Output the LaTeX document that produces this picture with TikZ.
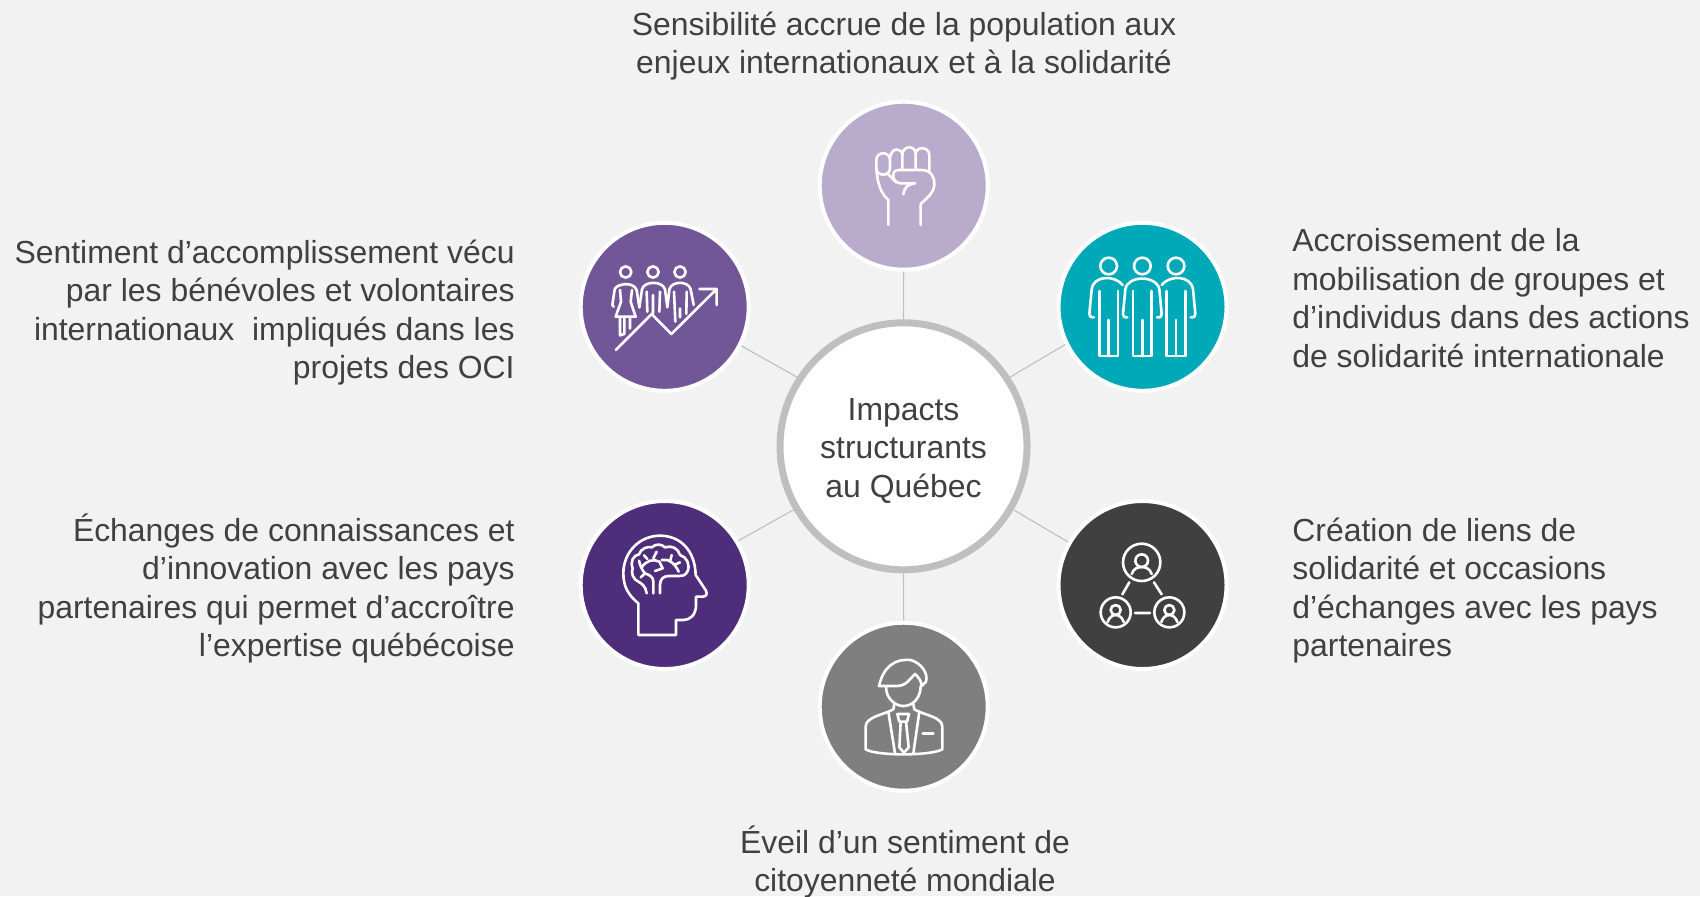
\documentclass[tikz,border=0pt]{standalone}
\usepackage{fontspec}
\setmainfont{Liberation Sans}
\definecolor{bgc}{HTML}{F2F2F2}
\definecolor{txt}{HTML}{404040}
\definecolor{ringc}{HTML}{BFBFBF}
\definecolor{lilac}{HTML}{B8ABCB}
\definecolor{violet}{HTML}{715797}
\definecolor{teal}{HTML}{00A9B7}
\definecolor{deep}{HTML}{4E2D7B}
\definecolor{dark}{HTML}{404040}
\definecolor{midgrey}{HTML}{7F7F7F}
\tikzset{
 label/.style={text=txt,font=\fontsize{15.95}{19.25}\selectfont,inner sep=0pt},
 disc/.style={circle,draw=white,line width=2pt,minimum size=84pt,inner sep=0pt},
 hub/.style={circle,draw=ringc,fill=white,line width=3.5pt,minimum size=123.5pt,inner sep=0pt},
 link/.style={draw=ringc,line width=0.55pt},
 icon/.style={draw=white,line width=1.3pt,line cap=round,line join=round},
 zoomed/.style={shift={#1},x=0.16667pt,y=-0.16667pt}
}
\begin{document}
\begin{tikzpicture}[x=0.5pt,y=-0.5pt]
\useasboundingbox (0,0) rectangle (1700,896);
\fill[bgc] (0,0) rectangle (1700,896);
\node[hub] (c) at (903.5,446.3) {};
\node[label,align=center] (ct) at (903.5,451) {Impacts\\structurants\\au Québec};
\node[disc,fill=lilac] (n1) at (903.7,185.7) {};
\node[disc,fill=teal] (n2) at (1142.5,306.8) {};
\node[disc,fill=dark] (n3) at (1142.5,585) {};
\node[disc,fill=midgrey] (n4) at (903.7,706.7) {};
\node[disc,fill=deep] (n5) at (664.7,585) {};
\node[disc,fill=violet] (n6) at (664.7,306.8) {};
\draw[link] (c.north) -- (n1.south);
\draw[link] (c.33) -- (n2.206);
\draw[link] (c.-30) -- (n3.150);
\draw[link] (c.south) -- (n4.north);
\draw[link] (c.210) -- (n5.31);
\draw[link] (c.147) -- (n6.-27);
\node[label,align=center] (t1) at (904,46) {Sensibilité accrue de la population aux\\enjeux internationaux et à la solidarité};
\node[label,align=left,anchor=west] (t2) at (1292,298) {Accroissement de la\\mobilisation de groupes et\\d’individus dans des actions\\de solidarité internationale};
\node[label,align=left,anchor=west] (t3) at (1292,590.3) {Création de liens de\\solidarité et occasions\\d’échanges avec les pays\\partenaires};
\node[label,align=center] (t4) at (905,862) {Éveil d’un sentiment de\\citoyenneté mondiale};
\node[label,align=right,anchor=east] (t5) at (515,588.5) {Échanges de connaissances et\\d’innovation avec les pays\\partenaires qui permet d’accroître\\l’expertise québécoise};
\node[label,align=right,anchor=east] (t6) at (515,312.5) {Sentiment d’accomplissement vécu\\par les bénévoles et volontaires\\internationaux\ \ impliqués dans les\\projets des OCI};
% fist
\begin{scope}[zoomed={(800,90)}]
\draw[icon] (229,210) .. controls (229,183) and (270,183) .. (270,210) -- (270,235) .. controls (270,260) and (229,260) .. (229,235) -- cycle;
\draw[icon] (229,235) .. controls (232,285) and (245,312) .. (265,330) -- (265,405);
\draw[icon] (271,200) .. controls (275,172) and (305,172) .. (307,195) -- (307,235);
\draw[icon] (307,195) .. controls (308,165) and (345,165) .. (347,190) -- (347,235);
\draw[icon] (347,190) .. controls (350,168) and (388,170) .. (388,195) -- (388,243);
\draw[icon] (345,280) -- (300,280) .. controls (275,275) and (272,240) .. (295,240) -- (365,240) .. controls (395,240) and (405,265) .. (403,285) .. controls (400,310) and (385,320) .. (362,342) -- (362,405);
\draw[icon] (345,280) .. controls (325,282) and (312,292) .. (310,313);
\draw[icon] (262,250) -- (288,277);
\end{scope}
% people and arrow
\begin{scope}[zoomed={(570,210)}]
\draw[icon] (167,186) circle[radius=17] (249,186) circle[radius=17] (330,186) circle[radius=17];
\draw[icon] (137,420) -- (245,312) -- (304,372) -- (440,237) (388,237) -- (440,237) -- (440,285);
\draw[icon] (131,290) -- (127,285) -- (134,238) .. controls (138,222) and (190,212) .. (200,240) -- (208,292);
\draw[icon] (150,240) -- (153,275) -- (137,320) -- (197,320) -- (182,275) -- (186,240);
\draw[icon] (150,320) -- (150,376) -- (163,372) -- (163,320) (180,320) -- (180,356);
\draw[icon] (208,292) -- (216,238) .. controls (222,212) and (278,212) .. (285,238) -- (292,292) -- (298,238) .. controls (305,212) and (355,212) .. (362,238) -- (371,285);
\draw[icon] (230,245) -- (232,305) (249,255) -- (249,310) (270,245) -- (268,305);
\draw[icon] (312,245) -- (316,335) (330,295) -- (330,322) (350,245) -- (349,312);
\end{scope}
% three people
\begin{scope}[zoomed={(1050,210)}]
\draw[icon] (176,168) circle[radius=25] (277,168) circle[radius=25] (378,168) circle[radius=25];
\draw[icon] (132,322) .. controls (122,322) and (118,320) .. (118,312) -- (125,238) .. controls (130,195) and (195,195) .. (218,225);
\draw[icon] (148,243) -- (148,438) -- (204,438) -- (204,243) (176,330) -- (176,438);
\draw[icon] (232,322) .. controls (222,322) and (219,320) .. (219,312) -- (226,238) .. controls (232,195) and (320,195) .. (328,238) -- (335,312) .. controls (335,320) and (332,322) .. (321,322);
\draw[icon] (249,243) -- (249,438) -- (305,438) -- (305,243) (277,330) -- (277,438);
\draw[icon] (335,225) .. controls (358,195) and (423,195) .. (429,238) -- (436,312) .. controls (436,320) and (433,322) .. (422,322);
\draw[icon] (350,243) -- (350,438) -- (406,438) -- (406,243) (378,330) -- (378,438);
\end{scope}
% head with brain
\begin{scope}[zoomed={(570,490)}]
\draw[icon] (205,435) -- (205,340) .. controls (175,315) and (160,290) .. (160,250) .. controls (160,185) and (210,137) .. (270,137) .. controls (330,137) and (375,180) .. (377,255) -- (408,302) .. controls (413,312) and (408,320) .. (398,320) -- (378,320) -- (378,345) .. controls (378,375) and (360,390) .. (340,390) -- (318,390) -- (318,435) -- cycle;
\draw[icon] (230,310) .. controls (228,290) and (215,280) .. (205,275) .. controls (190,268) and (182,250) .. (188,235) .. controls (180,215) and (190,195) .. (207,193) .. controls (212,175) and (235,168) .. (245,172) .. controls (258,160) and (275,162) .. (285,172) .. controls (305,165) and (325,175) .. (330,195) .. controls (350,200) and (362,225) .. (352,245) .. controls (345,258) and (335,258) .. (325,258) -- (295,258) .. controls (280,258) and (270,268) .. (270,285) -- (270,310);
\draw[icon] (250,310) -- (250,275) .. controls (250,262) and (240,255) .. (225,250) (225,250) .. controls (215,240) and (210,225) .. (207,212) (225,250) -- (212,262) (215,232) .. controls (228,212) and (250,205) .. (268,215) (232,207) -- (222,196) (250,205) -- (260,185) (268,215) -- (278,235) -- (255,243) (275,210) .. controls (295,205) and (315,220) .. (326,245) (300,215) -- (305,195) (312,225) -- (330,217);
\end{scope}
% linked people
\begin{scope}[zoomed={(1050,490)}]
\draw[icon] (275,217) circle[radius=56] (197,367) circle[radius=45] (358,367) circle[radius=45];
\draw[icon] (275,212) circle[radius=19] (197,360) circle[radius=15] (358,360) circle[radius=15];
\draw[icon] (245,252) .. controls (250,235) and (265,231) .. (275,231) .. controls (285,231) and (300,235) .. (305,252);
\draw[icon] (173,396) .. controls (177,382) and (188,375) .. (197,375) .. controls (206,375) and (217,382) .. (221,396);
\draw[icon] (334,396) .. controls (338,382) and (349,375) .. (358,375) .. controls (367,375) and (378,382) .. (382,396);
\draw[icon] (238,277) -- (217,313) (312,277) -- (335,313) (255,369) -- (300,369);
\end{scope}
% man in suit
\begin{scope}[zoomed={(800,610)}]
\draw[icon] (237,228) .. controls (250,170) and (285,145) .. (332,150) .. controls (365,160) and (385,190) .. (378,215) -- (365,228) .. controls (365,215) and (355,200) .. (345,192) .. controls (330,205) and (320,228) .. (290,228) -- cycle;
\draw[icon] (258,230) .. controls (258,265) and (285,288) .. (310,288) .. controls (340,288) and (362,262) .. (362,228);
\draw[icon] (283,282) -- (280,298) .. controls (250,315) and (197,320) .. (197,350) -- (197,418) .. controls (230,438) and (390,438) .. (427,418) -- (427,350) .. controls (427,320) and (370,315) .. (343,298) -- (340,282);
\draw[icon] (265,305) -- (285,430) (358,305) -- (340,430);
\draw[icon] (292,312) -- (327,312) -- (321,335) -- (298,335) -- cycle (302,335) -- (298,412) -- (312,428) -- (326,412) -- (318,335);
\draw[icon] (368,370) -- (400,370);
\end{scope}
\end{tikzpicture}
\end{document}
